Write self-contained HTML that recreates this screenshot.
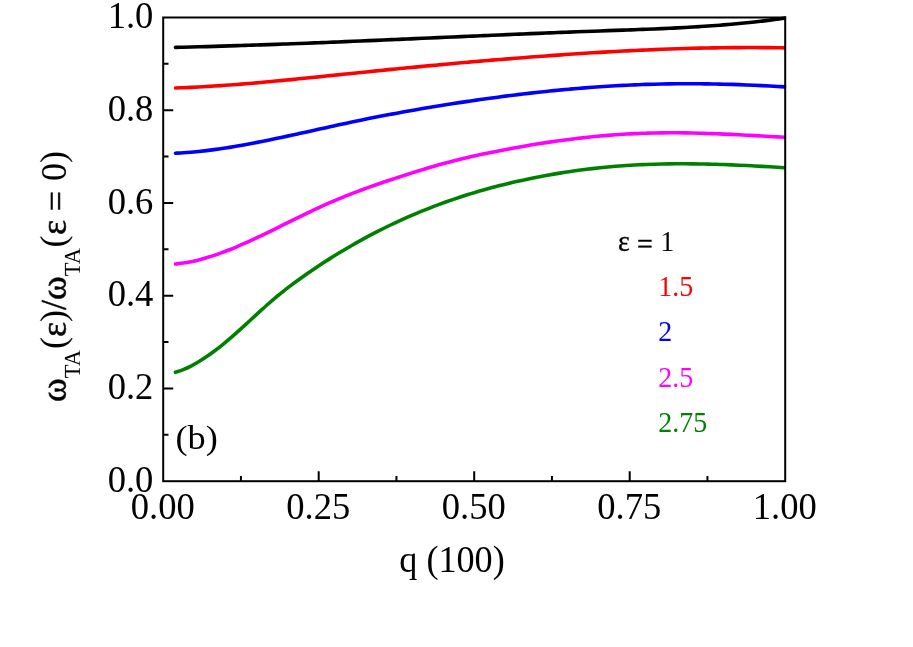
<!DOCTYPE html>
<html><head><meta charset="utf-8"><title>chart</title>
<style>
html,body{margin:0;padding:0;background:#fff;}
body{width:913px;height:647px;overflow:hidden;}
svg{display:block;position:absolute;left:0;top:0;}
text{font-family:"Liberation Serif",serif;fill:#000;}
</style></head><body>
<svg width="913" height="647" viewBox="0 0 913 647">
<rect x="0" y="0" width="913" height="647" fill="#ffffff"/>
<defs><clipPath id="pc"><rect x="163.2" y="15.5" width="622.90" height="467.70"/></clipPath></defs>
<g clip-path="url(#pc)">
<path d="M175.50,372.31 C176.79,371.85 180.65,370.62 183.22,369.58 C185.79,368.53 188.36,367.34 190.94,366.03 C193.51,364.73 196.08,363.29 198.66,361.75 C201.23,360.22 203.80,358.56 206.38,356.82 C208.95,355.08 211.52,353.23 214.09,351.31 C216.67,349.39 219.24,347.38 221.81,345.31 C224.39,343.24 226.96,341.09 229.53,338.90 C232.11,336.70 234.68,334.44 237.25,332.15 C239.82,329.86 242.40,327.51 244.97,325.16 C247.54,322.81 250.12,320.42 252.69,318.05 C255.26,315.68 257.84,313.30 260.41,310.95 C262.98,308.61 265.55,306.27 268.13,304.00 C270.70,301.73 273.27,299.49 275.85,297.33 C278.42,295.17 280.99,293.08 283.57,291.05 C286.14,289.01 288.71,287.04 291.28,285.11 C293.86,283.18 296.43,281.30 299.00,279.45 C301.58,277.60 304.15,275.79 306.72,274.00 C309.30,272.21 311.87,270.44 314.44,268.71 C317.01,266.98 319.59,265.27 322.16,263.59 C324.73,261.91 327.31,260.26 329.88,258.63 C332.45,257.00 335.03,255.40 337.60,253.83 C340.17,252.26 342.74,250.71 345.32,249.19 C347.89,247.67 350.46,246.17 353.04,244.70 C355.61,243.23 358.18,241.79 360.76,240.37 C363.33,238.95 365.90,237.55 368.47,236.18 C371.05,234.81 373.62,233.47 376.19,232.14 C378.77,230.82 381.34,229.53 383.91,228.25 C386.49,226.98 389.06,225.73 391.63,224.50 C394.20,223.28 396.78,222.07 399.35,220.89 C401.92,219.71 404.50,218.56 407.07,217.42 C409.64,216.29 412.22,215.18 414.79,214.09 C417.36,213.00 419.93,211.93 422.51,210.88 C425.08,209.84 427.65,208.81 430.23,207.81 C432.80,206.81 435.37,205.83 437.95,204.86 C440.52,203.90 443.09,202.96 445.66,202.04 C448.24,201.13 450.81,200.23 453.38,199.35 C455.96,198.47 458.53,197.61 461.10,196.77 C463.68,195.93 466.25,195.11 468.82,194.31 C471.39,193.51 473.97,192.73 476.54,191.97 C479.11,191.21 481.69,190.46 484.26,189.74 C486.83,189.01 489.41,188.30 491.98,187.61 C494.55,186.92 497.12,186.25 499.70,185.59 C502.27,184.94 504.84,184.30 507.42,183.68 C509.99,183.05 512.56,182.45 515.14,181.86 C517.71,181.27 520.28,180.69 522.85,180.14 C525.43,179.58 528.00,179.04 530.57,178.51 C533.15,177.98 535.72,177.47 538.29,176.97 C540.87,176.47 543.44,175.98 546.01,175.51 C548.58,175.04 551.16,174.59 553.73,174.14 C556.30,173.70 558.88,173.27 561.45,172.86 C564.02,172.45 566.60,172.05 569.17,171.66 C571.74,171.28 574.31,170.91 576.89,170.55 C579.46,170.20 582.03,169.85 584.61,169.53 C587.18,169.20 589.75,168.89 592.33,168.59 C594.90,168.29 597.47,168.01 600.04,167.74 C602.62,167.48 605.19,167.22 607.76,166.98 C610.34,166.75 612.91,166.52 615.48,166.31 C618.06,166.10 620.63,165.91 623.20,165.73 C625.77,165.55 628.35,165.38 630.92,165.23 C633.49,165.08 636.07,164.94 638.64,164.81 C641.21,164.68 643.79,164.57 646.36,164.47 C648.93,164.37 651.50,164.28 654.08,164.20 C656.65,164.12 659.22,164.06 661.80,164.00 C664.37,163.95 666.94,163.90 669.52,163.87 C672.09,163.84 674.66,163.82 677.23,163.81 C679.81,163.79 682.38,163.79 684.95,163.80 C687.53,163.81 690.10,163.82 692.67,163.85 C695.25,163.88 697.82,163.91 700.39,163.96 C702.96,164.00 705.54,164.05 708.11,164.11 C710.68,164.17 713.26,164.24 715.83,164.32 C718.40,164.39 720.98,164.47 723.55,164.56 C726.12,164.65 728.69,164.75 731.27,164.85 C733.84,164.96 736.41,165.06 738.99,165.18 C741.56,165.29 744.13,165.41 746.71,165.54 C749.28,165.66 751.85,165.80 754.42,165.93 C757.00,166.07 759.57,166.21 762.14,166.35 C764.72,166.49 767.29,166.64 769.86,166.79 C772.44,166.94 775.01,167.10 777.58,167.26 C780.15,167.41 784.01,167.66 785.30,167.74" fill="none" stroke="#008000" stroke-width="3.6" stroke-linecap="round" stroke-linejoin="round"/>
<path d="M175.50,264.03 C176.79,263.87 180.65,263.44 183.22,263.05 C185.79,262.65 188.36,262.18 190.94,261.66 C193.51,261.13 196.08,260.54 198.66,259.89 C201.23,259.25 203.80,258.54 206.38,257.79 C208.95,257.04 211.52,256.23 214.09,255.37 C216.67,254.52 219.24,253.62 221.81,252.68 C224.39,251.74 226.96,250.75 229.53,249.74 C232.11,248.72 234.68,247.66 237.25,246.57 C239.82,245.49 242.40,244.36 244.97,243.22 C247.54,242.08 250.12,240.90 252.69,239.71 C255.26,238.52 257.84,237.30 260.41,236.07 C262.98,234.84 265.55,233.59 268.13,232.34 C270.70,231.08 273.27,229.81 275.85,228.54 C278.42,227.26 280.99,225.98 283.57,224.70 C286.14,223.42 288.71,222.13 291.28,220.86 C293.86,219.58 296.43,218.30 299.00,217.04 C301.58,215.78 304.15,214.52 306.72,213.28 C309.30,212.04 311.87,210.81 314.44,209.60 C317.01,208.40 319.59,207.21 322.16,206.04 C324.73,204.88 327.31,203.74 329.88,202.63 C332.45,201.51 335.03,200.42 337.60,199.35 C340.17,198.28 342.74,197.23 345.32,196.20 C347.89,195.17 350.46,194.16 353.04,193.17 C355.61,192.18 358.18,191.21 360.76,190.25 C363.33,189.29 365.90,188.35 368.47,187.43 C371.05,186.50 373.62,185.60 376.19,184.70 C378.77,183.80 381.34,182.92 383.91,182.05 C386.49,181.17 389.06,180.31 391.63,179.46 C394.20,178.61 396.78,177.77 399.35,176.94 C401.92,176.11 404.50,175.28 407.07,174.46 C409.64,173.65 412.22,172.83 414.79,172.03 C417.36,171.23 419.93,170.44 422.51,169.65 C425.08,168.87 427.65,168.10 430.23,167.34 C432.80,166.58 435.37,165.83 437.95,165.10 C440.52,164.37 443.09,163.65 445.66,162.95 C448.24,162.25 450.81,161.57 453.38,160.91 C455.96,160.24 458.53,159.60 461.10,158.97 C463.68,158.34 466.25,157.74 468.82,157.15 C471.39,156.55 473.97,155.98 476.54,155.42 C479.11,154.86 481.69,154.31 484.26,153.78 C486.83,153.24 489.41,152.71 491.98,152.20 C494.55,151.68 497.12,151.17 499.70,150.67 C502.27,150.17 504.84,149.67 507.42,149.19 C509.99,148.71 512.56,148.23 515.14,147.77 C517.71,147.30 520.28,146.84 522.85,146.40 C525.43,145.95 528.00,145.51 530.57,145.08 C533.15,144.66 535.72,144.24 538.29,143.83 C540.87,143.42 543.44,143.02 546.01,142.63 C548.58,142.25 551.16,141.87 553.73,141.50 C556.30,141.13 558.88,140.77 561.45,140.43 C564.02,140.08 566.60,139.74 569.17,139.42 C571.74,139.09 574.31,138.78 576.89,138.48 C579.46,138.17 582.03,137.88 584.61,137.60 C587.18,137.32 589.75,137.05 592.33,136.79 C594.90,136.54 597.47,136.29 600.04,136.06 C602.62,135.82 605.19,135.60 607.76,135.39 C610.34,135.18 612.91,134.98 615.48,134.80 C618.06,134.61 620.63,134.44 623.20,134.28 C625.77,134.12 628.35,133.97 630.92,133.84 C633.49,133.70 636.07,133.58 638.64,133.47 C641.21,133.36 643.79,133.27 646.36,133.18 C648.93,133.10 651.50,133.03 654.08,132.98 C656.65,132.92 659.22,132.88 661.80,132.85 C664.37,132.82 666.94,132.81 669.52,132.80 C672.09,132.80 674.66,132.80 677.23,132.82 C679.81,132.84 682.38,132.87 684.95,132.90 C687.53,132.94 690.10,132.99 692.67,133.04 C695.25,133.10 697.82,133.16 700.39,133.24 C702.96,133.31 705.54,133.39 708.11,133.48 C710.68,133.56 713.26,133.66 715.83,133.76 C718.40,133.86 720.98,133.96 723.55,134.08 C726.12,134.19 728.69,134.30 731.27,134.42 C733.84,134.54 736.41,134.67 738.99,134.80 C741.56,134.92 744.13,135.06 746.71,135.19 C749.28,135.32 751.85,135.46 754.42,135.59 C757.00,135.73 759.57,135.87 762.14,136.01 C764.72,136.15 767.29,136.29 769.86,136.43 C772.44,136.56 775.01,136.70 777.58,136.84 C780.15,136.97 784.01,137.18 785.30,137.24" fill="none" stroke="#ff00ff" stroke-width="3.6" stroke-linecap="round" stroke-linejoin="round"/>
<path d="M175.50,153.23 C176.79,153.16 180.65,152.97 183.22,152.80 C185.79,152.64 188.36,152.44 190.94,152.22 C193.51,152.00 196.08,151.76 198.66,151.50 C201.23,151.23 203.80,150.94 206.38,150.64 C208.95,150.33 211.52,150.00 214.09,149.66 C216.67,149.31 219.24,148.94 221.81,148.56 C224.39,148.18 226.96,147.78 229.53,147.36 C232.11,146.95 234.68,146.52 237.25,146.07 C239.82,145.63 242.40,145.17 244.97,144.70 C247.54,144.23 250.12,143.75 252.69,143.25 C255.26,142.76 257.84,142.26 260.41,141.75 C262.98,141.24 265.55,140.71 268.13,140.19 C270.70,139.66 273.27,139.12 275.85,138.59 C278.42,138.05 280.99,137.50 283.57,136.95 C286.14,136.40 288.71,135.84 291.28,135.29 C293.86,134.73 296.43,134.17 299.00,133.60 C301.58,133.04 304.15,132.47 306.72,131.90 C309.30,131.34 311.87,130.77 314.44,130.20 C317.01,129.63 319.59,129.06 322.16,128.49 C324.73,127.92 327.31,127.36 329.88,126.79 C332.45,126.23 335.03,125.66 337.60,125.10 C340.17,124.54 342.74,123.99 345.32,123.43 C347.89,122.88 350.46,122.33 353.04,121.79 C355.61,121.25 358.18,120.71 360.76,120.18 C363.33,119.65 365.90,119.13 368.47,118.61 C371.05,118.09 373.62,117.58 376.19,117.08 C378.77,116.57 381.34,116.07 383.91,115.58 C386.49,115.08 389.06,114.60 391.63,114.11 C394.20,113.63 396.78,113.16 399.35,112.68 C401.92,112.21 404.50,111.75 407.07,111.29 C409.64,110.83 412.22,110.37 414.79,109.93 C417.36,109.48 419.93,109.03 422.51,108.59 C425.08,108.16 427.65,107.72 430.23,107.29 C432.80,106.87 435.37,106.44 437.95,106.03 C440.52,105.61 443.09,105.19 445.66,104.79 C448.24,104.38 450.81,103.97 453.38,103.57 C455.96,103.17 458.53,102.78 461.10,102.39 C463.68,102.00 466.25,101.62 468.82,101.23 C471.39,100.85 473.97,100.48 476.54,100.11 C479.11,99.74 481.69,99.37 484.26,99.01 C486.83,98.65 489.41,98.30 491.98,97.95 C494.55,97.60 497.12,97.25 499.70,96.91 C502.27,96.57 504.84,96.24 507.42,95.91 C509.99,95.58 512.56,95.26 515.14,94.94 C517.71,94.63 520.28,94.31 522.85,94.01 C525.43,93.70 528.00,93.40 530.57,93.11 C533.15,92.82 535.72,92.53 538.29,92.25 C540.87,91.97 543.44,91.69 546.01,91.42 C548.58,91.15 551.16,90.89 553.73,90.63 C556.30,90.38 558.88,90.13 561.45,89.88 C564.02,89.64 566.60,89.40 569.17,89.17 C571.74,88.94 574.31,88.72 576.89,88.50 C579.46,88.28 582.03,88.07 584.61,87.87 C587.18,87.67 589.75,87.47 592.33,87.28 C594.90,87.09 597.47,86.91 600.04,86.74 C602.62,86.56 605.19,86.40 607.76,86.24 C610.34,86.08 612.91,85.92 615.48,85.78 C618.06,85.64 620.63,85.50 623.20,85.37 C625.77,85.24 628.35,85.12 630.92,85.00 C633.49,84.89 636.07,84.78 638.64,84.68 C641.21,84.59 643.79,84.50 646.36,84.41 C648.93,84.33 651.50,84.26 654.08,84.19 C656.65,84.12 659.22,84.07 661.80,84.01 C664.37,83.96 666.94,83.92 669.52,83.88 C672.09,83.85 674.66,83.82 677.23,83.80 C679.81,83.78 682.38,83.76 684.95,83.76 C687.53,83.75 690.10,83.75 692.67,83.76 C695.25,83.77 697.82,83.78 700.39,83.80 C702.96,83.83 705.54,83.85 708.11,83.89 C710.68,83.93 713.26,83.97 715.83,84.02 C718.40,84.07 720.98,84.12 723.55,84.19 C726.12,84.25 728.69,84.32 731.27,84.40 C733.84,84.47 736.41,84.56 738.99,84.65 C741.56,84.73 744.13,84.83 746.71,84.93 C749.28,85.03 751.85,85.14 754.42,85.26 C757.00,85.37 759.57,85.49 762.14,85.62 C764.72,85.74 767.29,85.88 769.86,86.02 C772.44,86.15 775.01,86.30 777.58,86.45 C780.15,86.60 784.01,86.84 785.30,86.92" fill="none" stroke="#0000ff" stroke-width="3.6" stroke-linecap="round" stroke-linejoin="round"/>
<path d="M175.50,88.00 C176.79,87.95 180.65,87.82 183.22,87.71 C185.79,87.60 188.36,87.49 190.94,87.37 C193.51,87.25 196.08,87.12 198.66,86.98 C201.23,86.84 203.80,86.70 206.38,86.55 C208.95,86.39 211.52,86.24 214.09,86.07 C216.67,85.91 219.24,85.74 221.81,85.56 C224.39,85.38 226.96,85.20 229.53,85.01 C232.11,84.82 234.68,84.63 237.25,84.43 C239.82,84.23 242.40,84.02 244.97,83.81 C247.54,83.60 250.12,83.39 252.69,83.17 C255.26,82.95 257.84,82.72 260.41,82.50 C262.98,82.27 265.55,82.04 268.13,81.80 C270.70,81.56 273.27,81.33 275.85,81.08 C278.42,80.84 280.99,80.59 283.57,80.35 C286.14,80.10 288.71,79.85 291.28,79.59 C293.86,79.34 296.43,79.08 299.00,78.83 C301.58,78.57 304.15,78.31 306.72,78.05 C309.30,77.78 311.87,77.52 314.44,77.26 C317.01,76.99 319.59,76.73 322.16,76.46 C324.73,76.19 327.31,75.93 329.88,75.66 C332.45,75.39 335.03,75.12 337.60,74.85 C340.17,74.59 342.74,74.32 345.32,74.05 C347.89,73.78 350.46,73.52 353.04,73.25 C355.61,72.98 358.18,72.72 360.76,72.45 C363.33,72.19 365.90,71.93 368.47,71.67 C371.05,71.40 373.62,71.14 376.19,70.88 C378.77,70.62 381.34,70.37 383.91,70.11 C386.49,69.85 389.06,69.60 391.63,69.34 C394.20,69.09 396.78,68.84 399.35,68.58 C401.92,68.33 404.50,68.08 407.07,67.83 C409.64,67.59 412.22,67.34 414.79,67.09 C417.36,66.85 419.93,66.60 422.51,66.36 C425.08,66.11 427.65,65.87 430.23,65.63 C432.80,65.39 435.37,65.15 437.95,64.92 C440.52,64.68 443.09,64.44 445.66,64.21 C448.24,63.97 450.81,63.74 453.38,63.51 C455.96,63.28 458.53,63.05 461.10,62.82 C463.68,62.59 466.25,62.37 468.82,62.14 C471.39,61.92 473.97,61.69 476.54,61.47 C479.11,61.25 481.69,61.03 484.26,60.81 C486.83,60.60 489.41,60.38 491.98,60.16 C494.55,59.95 497.12,59.74 499.70,59.53 C502.27,59.31 504.84,59.11 507.42,58.90 C509.99,58.69 512.56,58.48 515.14,58.28 C517.71,58.08 520.28,57.88 522.85,57.68 C525.43,57.48 528.00,57.28 530.57,57.08 C533.15,56.88 535.72,56.69 538.29,56.50 C540.87,56.31 543.44,56.12 546.01,55.93 C548.58,55.74 551.16,55.56 553.73,55.37 C556.30,55.19 558.88,55.01 561.45,54.83 C564.02,54.65 566.60,54.47 569.17,54.30 C571.74,54.13 574.31,53.96 576.89,53.79 C579.46,53.62 582.03,53.45 584.61,53.29 C587.18,53.13 589.75,52.97 592.33,52.81 C594.90,52.65 597.47,52.50 600.04,52.35 C602.62,52.19 605.19,52.04 607.76,51.90 C610.34,51.75 612.91,51.61 615.48,51.47 C618.06,51.33 620.63,51.19 623.20,51.06 C625.77,50.93 628.35,50.80 630.92,50.67 C633.49,50.54 636.07,50.42 638.64,50.30 C641.21,50.18 643.79,50.06 646.36,49.95 C648.93,49.84 651.50,49.73 654.08,49.62 C656.65,49.52 659.22,49.41 661.80,49.32 C664.37,49.22 666.94,49.12 669.52,49.03 C672.09,48.94 674.66,48.85 677.23,48.77 C679.81,48.69 682.38,48.61 684.95,48.53 C687.53,48.46 690.10,48.39 692.67,48.32 C695.25,48.25 697.82,48.19 700.39,48.13 C702.96,48.07 705.54,48.02 708.11,47.97 C710.68,47.92 713.26,47.87 715.83,47.83 C718.40,47.79 720.98,47.75 723.55,47.72 C726.12,47.69 728.69,47.66 731.27,47.64 C733.84,47.61 736.41,47.60 738.99,47.58 C741.56,47.57 744.13,47.56 746.71,47.56 C749.28,47.55 751.85,47.55 754.42,47.56 C757.00,47.56 759.57,47.57 762.14,47.59 C764.72,47.61 767.29,47.63 769.86,47.65 C772.44,47.68 775.01,47.71 777.58,47.75 C780.15,47.78 784.01,47.85 785.30,47.87" fill="none" stroke="#ff0000" stroke-width="3.6" stroke-linecap="round" stroke-linejoin="round"/>
<path d="M175.50,47.37 C176.79,47.33 180.65,47.25 183.22,47.18 C185.79,47.12 188.36,47.06 190.94,46.99 C193.51,46.93 196.08,46.86 198.66,46.79 C201.23,46.72 203.80,46.65 206.38,46.58 C208.95,46.51 211.52,46.44 214.09,46.36 C216.67,46.29 219.24,46.21 221.81,46.14 C224.39,46.06 226.96,45.98 229.53,45.90 C232.11,45.82 234.68,45.74 237.25,45.66 C239.82,45.58 242.40,45.50 244.97,45.41 C247.54,45.33 250.12,45.24 252.69,45.16 C255.26,45.07 257.84,44.98 260.41,44.89 C262.98,44.80 265.55,44.72 268.13,44.62 C270.70,44.53 273.27,44.44 275.85,44.35 C278.42,44.26 280.99,44.16 283.57,44.07 C286.14,43.97 288.71,43.88 291.28,43.78 C293.86,43.69 296.43,43.59 299.00,43.49 C301.58,43.39 304.15,43.29 306.72,43.19 C309.30,43.09 311.87,42.99 314.44,42.89 C317.01,42.79 319.59,42.69 322.16,42.58 C324.73,42.48 327.31,42.38 329.88,42.27 C332.45,42.17 335.03,42.06 337.60,41.96 C340.17,41.85 342.74,41.75 345.32,41.64 C347.89,41.53 350.46,41.43 353.04,41.32 C355.61,41.21 358.18,41.10 360.76,41.00 C363.33,40.89 365.90,40.78 368.47,40.67 C371.05,40.56 373.62,40.45 376.19,40.34 C378.77,40.23 381.34,40.12 383.91,40.01 C386.49,39.90 389.06,39.78 391.63,39.67 C394.20,39.56 396.78,39.45 399.35,39.34 C401.92,39.22 404.50,39.11 407.07,39.00 C409.64,38.89 412.22,38.77 414.79,38.66 C417.36,38.55 419.93,38.44 422.51,38.32 C425.08,38.21 427.65,38.10 430.23,37.98 C432.80,37.87 435.37,37.76 437.95,37.64 C440.52,37.53 443.09,37.42 445.66,37.30 C448.24,37.19 450.81,37.08 453.38,36.96 C455.96,36.85 458.53,36.74 461.10,36.63 C463.68,36.51 466.25,36.40 468.82,36.29 C471.39,36.17 473.97,36.06 476.54,35.95 C479.11,35.84 481.69,35.73 484.26,35.61 C486.83,35.50 489.41,35.39 491.98,35.28 C494.55,35.17 497.12,35.06 499.70,34.95 C502.27,34.84 504.84,34.73 507.42,34.62 C509.99,34.51 512.56,34.40 515.14,34.29 C517.71,34.18 520.28,34.08 522.85,33.97 C525.43,33.86 528.00,33.75 530.57,33.65 C533.15,33.54 535.72,33.43 538.29,33.33 C540.87,33.22 543.44,33.12 546.01,33.02 C548.58,32.91 551.16,32.81 553.73,32.71 C556.30,32.60 558.88,32.50 561.45,32.40 C564.02,32.30 566.60,32.20 569.17,32.10 C571.74,32.00 574.31,31.90 576.89,31.80 C579.46,31.70 582.03,31.61 584.61,31.51 C587.18,31.41 589.75,31.32 592.33,31.22 C594.90,31.13 597.47,31.04 600.04,30.94 C602.62,30.85 605.19,30.76 607.76,30.67 C610.34,30.58 612.91,30.49 615.48,30.40 C618.06,30.30 620.63,30.21 623.20,30.12 C625.77,30.03 628.35,29.94 630.92,29.84 C633.49,29.75 636.07,29.65 638.64,29.56 C641.21,29.46 643.79,29.36 646.36,29.26 C648.93,29.16 651.50,29.05 654.08,28.95 C656.65,28.84 659.22,28.73 661.80,28.62 C664.37,28.50 666.94,28.39 669.52,28.27 C672.09,28.14 674.66,28.02 677.23,27.89 C679.81,27.76 682.38,27.62 684.95,27.48 C687.53,27.34 690.10,27.20 692.67,27.05 C695.25,26.89 697.82,26.74 700.39,26.57 C702.96,26.41 705.54,26.24 708.11,26.06 C710.68,25.88 713.26,25.70 715.83,25.51 C718.40,25.31 720.98,25.12 723.55,24.91 C726.12,24.70 728.69,24.48 731.27,24.26 C733.84,24.03 736.41,23.80 738.99,23.56 C741.56,23.31 744.13,23.06 746.71,22.80 C749.28,22.54 751.85,22.27 754.42,21.98 C757.00,21.70 759.57,21.41 762.14,21.10 C764.72,20.80 767.29,20.48 769.86,20.16 C772.44,19.83 775.01,19.49 777.58,19.14 C780.15,18.79 784.01,18.23 785.30,18.05" fill="none" stroke="#000000" stroke-width="3.6" stroke-linecap="round" stroke-linejoin="round"/>
</g>
<rect x="163.2" y="17.5" width="622.00" height="463.70" fill="none" stroke="#000" stroke-width="2.0"/>
<path d="M240.95,481.2 V475.90 M318.70,481.2 V471.20 M396.45,481.2 V475.90 M474.20,481.2 V471.20 M551.95,481.2 V475.90 M629.70,481.2 V471.20 M707.45,481.2 V475.90 M163.2,434.83 H168.50 M163.2,388.46 H173.20 M163.2,342.09 H168.50 M163.2,295.72 H173.20 M163.2,249.35 H168.50 M163.2,202.98 H173.20 M163.2,156.61 H168.50 M163.2,110.24 H173.20 M163.2,63.87 H168.50" fill="none" stroke="#000" stroke-width="2.0"/>
<g opacity="0.999">
<text transform="translate(153.40,491.90) scale(1,1.035)" font-size="36.6" text-anchor="end">0.0</text>
<text transform="translate(153.40,399.16) scale(1,1.035)" font-size="36.6" text-anchor="end">0.2</text>
<text transform="translate(153.40,306.42) scale(1,1.035)" font-size="36.6" text-anchor="end">0.4</text>
<text transform="translate(153.40,213.68) scale(1,1.035)" font-size="36.6" text-anchor="end">0.6</text>
<text transform="translate(153.40,120.94) scale(1,1.035)" font-size="36.6" text-anchor="end">0.8</text>
<text transform="translate(153.40,28.20) scale(1,1.035)" font-size="36.6" text-anchor="end">1.0</text>
<text transform="translate(162.80,519.40) scale(1,1.035)" font-size="36.6" text-anchor="middle">0.00</text>
<text transform="translate(318.30,519.40) scale(1,1.035)" font-size="36.6" text-anchor="middle">0.25</text>
<text transform="translate(473.80,519.40) scale(1,1.035)" font-size="36.6" text-anchor="middle">0.50</text>
<text transform="translate(629.30,519.40) scale(1,1.035)" font-size="36.6" text-anchor="middle">0.75</text>
<text transform="translate(784.80,519.40) scale(1,1.035)" font-size="36.6" text-anchor="middle">1.00</text>
<text transform="translate(452.00,571.90) scale(1,1.02)" font-size="36.2" text-anchor="middle">q (100)</text>
<text transform="translate(175.50,449.30) scale(1,0.95)" font-size="36.3">(b)</text>
<text transform="translate(65.9,402.0) rotate(-90)" font-size="36"><tspan stroke="#000" stroke-width="0.55">ω</tspan><tspan font-size="22.5" dy="14.2">TA</tspan><tspan dx="1.0" dy="-15.3">(</tspan><tspan dy="1.1" stroke="#000" stroke-width="0.5">ε</tspan><tspan dy="-1.1">)</tspan><tspan dy="1.1" stroke="#000" stroke-width="0.4">/</tspan><tspan stroke="#000" stroke-width="0.55">ω</tspan><tspan font-size="22.5" dy="14.2">TA</tspan><tspan dx="0.6" dy="-15.3">(</tspan><tspan dx="0.5" dy="1.1" stroke="#000" stroke-width="0.5">ε</tspan><tspan dx="-0.5" dy="2.3" stroke="#000" stroke-width="0.4"> =</tspan><tspan dx="1.0" dy="-2.3"> 0</tspan><tspan dy="-1.1">)</tspan></text>
<text transform="translate(618.00,250.60) scale(1,1.035)" font-size="28"><tspan stroke="#000" stroke-width="0.35">ε</tspan><tspan dy="3.0" dx="0.3" stroke="#000" stroke-width="0.45"> =</tspan><tspan dy="-3.0" dx="0.5"> 1</tspan></text>
<text transform="translate(658.30,296.00) scale(1,1.035)" font-size="28" style="fill:#ff0000">1.5</text>
<text transform="translate(658.30,341.30) scale(1,1.035)" font-size="28" style="fill:#0000ff">2</text>
<text transform="translate(658.30,386.80) scale(1,1.035)" font-size="28" style="fill:#ff00ff">2.5</text>
<text transform="translate(658.30,432.20) scale(1,1.035)" font-size="28" style="fill:#008000">2.75</text>
</g>
</svg></body></html>
